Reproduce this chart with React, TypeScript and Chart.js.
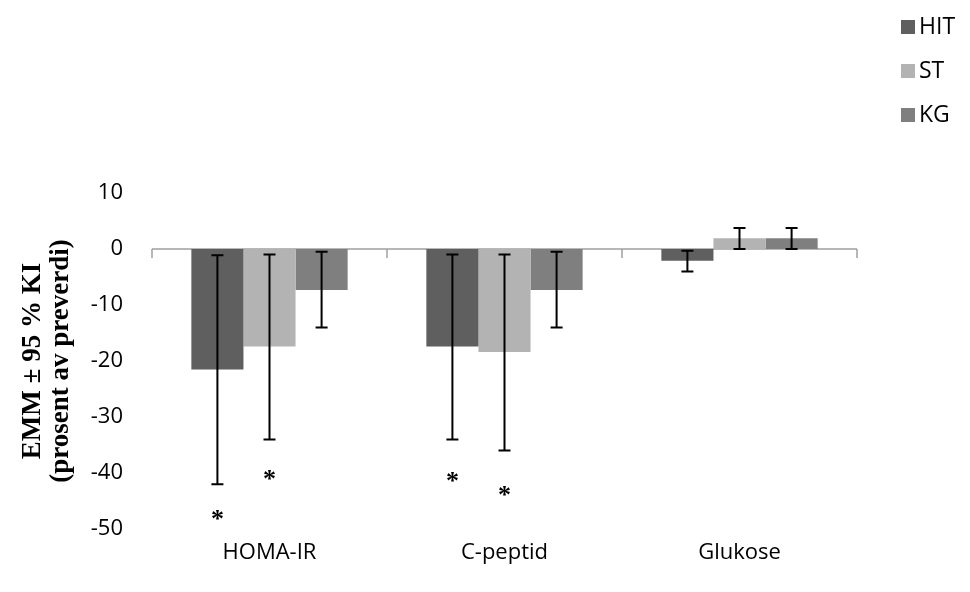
import React, { useEffect, useRef } from "react";
import { Chart, registerables } from "chart.js";

Chart.register(...registerables);

const categories = ["HOMA-IR", "C-peptid", "Glukose"];
const seriesNames = ["HIT", "ST", "KG"];
const hitValues = [-21.5, -17.4, -2.1];
const stValues = [-17.4, -18.4, 1.9];
const kgValues = [-7.3, -7.3, 1.9];
const hitLow = [-42, -34, -4];
const hitHigh = [-1.1, -1, -0.3];
const stLow = [-34, -36, 0];
const stHigh = [-1, -1, 3.75];
const kgLow = [-14, -14, 0];
const kgHigh = [-0.5, -0.5, 3.75];
const hitStars = [-47.5, -40.7, null];
const stStars = [-40.3, -43.3, null];
const kgStars = [null, null, null];
const yMin = -50;
const yMax = 10;
const yStep = 10;
const yTitle = ["EMM \u00b1 95 % KI", "(prosent av preverdi)"];

const colors = ["#5f5f5f", "#b3b3b3", "#7f7f7f"];
const lows = [hitLow, stLow, kgLow];
const highs = [hitHigh, stHigh, kgHigh];
const stars = [hitStars, stStars, kgStars];

const SANS = "'Open Sans', 'Liberation Sans', sans-serif";

const zeroLinePlugin = {
  id: "zeroLine",
  beforeDatasetsDraw(chart: any) {
    const { ctx, chartArea, scales } = chart;
    const y0 = scales.y.getPixelForValue(0);
    const n = categories.length;
    const w = (chartArea.right - chartArea.left) / n;
    ctx.save();
    ctx.strokeStyle = "#a0a0a0";
    ctx.lineWidth = 1.5;
    ctx.beginPath();
    ctx.moveTo(chartArea.left, y0);
    ctx.lineTo(chartArea.right, y0);
    for (let i = 0; i <= n; i++) {
      const x = chartArea.left + i * w;
      ctx.moveTo(x, y0);
      ctx.lineTo(x, y0 + 9);
    }
    ctx.stroke();
    ctx.restore();
  },
};

const errorBarPlugin = {
  id: "errorBars",
  afterDatasetsDraw(chart: any) {
    const { ctx, scales } = chart;
    ctx.save();
    ctx.strokeStyle = "#000";
    ctx.lineWidth = 2;
    chart.data.datasets.forEach((ds: any, i: number) => {
      const meta = chart.getDatasetMeta(i);
      meta.data.forEach((el: any, j: number) => {
        const x = el.x;
        const yl = scales.y.getPixelForValue(lows[i][j]);
        const yh = scales.y.getPixelForValue(highs[i][j]);
        ctx.beginPath();
        ctx.moveTo(x, yl);
        ctx.lineTo(x, yh);
        ctx.moveTo(x - 6, yl);
        ctx.lineTo(x + 6, yl);
        ctx.moveTo(x - 6, yh);
        ctx.lineTo(x + 6, yh);
        ctx.stroke();
      });
    });
    ctx.fillStyle = "#000";
    ctx.font = "bold 26px 'Liberation Serif', serif";
    ctx.textAlign = "center";
    ctx.textBaseline = "alphabetic";
    chart.data.datasets.forEach((ds: any, i: number) => {
      const meta = chart.getDatasetMeta(i);
      meta.data.forEach((el: any, j: number) => {
        const v = stars[i][j];
        if (v === null || v === undefined) return;
        const y = scales.y.getPixelForValue(v);
        ctx.fillText("*", el.x, y + 12);
      });
    });
    ctx.restore();
  },
};

const legendPlugin = {
  id: "customLegend",
  afterDraw(chart: any) {
    const { ctx } = chart;
    ctx.save();
    ctx.font = "23px " + SANS;
    ctx.textBaseline = "middle";
    ctx.textAlign = "left";
    chart.data.datasets.forEach((ds: any, i: number) => {
      const cy = 27 + i * 44;
      ctx.fillStyle = ds.backgroundColor;
      ctx.fillRect(901, cy - 7, 14, 14);
      ctx.fillStyle = "#000";
      ctx.fillText(ds.label, 919, cy);
    });
    ctx.restore();
  },
};

export default function App() {
  const ref = useRef<HTMLCanvasElement>(null);
  useEffect(() => {
    if (!ref.current) return;
    const values = [hitValues, stValues, kgValues];
    const chart = new Chart(ref.current, {
      type: "bar",
      data: {
        labels: categories,
        datasets: seriesNames.map((name, i) => ({
          label: name,
          data: values[i],
          backgroundColor: colors[i],
          borderWidth: 0,
          categoryPercentage: 0.665,
          barPercentage: 1,
        })),
      },
      options: {
        animation: false,
        responsive: false,
        devicePixelRatio: 1,
        layout: { padding: { top: 193, right: 113, bottom: 0, left: 0 } },
        plugins: {
          legend: { display: false },
          tooltip: { enabled: false },
        },
        scales: {
          x: {
            grid: { display: false, drawTicks: false },
            border: { display: false },
            ticks: { color: "#000", font: { family: SANS, size: 22 }, padding: 11 },
            afterFit(scale: any) {
              scale.height = 63;
            },
          },
          y: {
            min: yMin,
            max: yMax,
            grid: { display: false, drawTicks: false },
            border: { display: false },
            ticks: { stepSize: yStep, color: "#000", font: { family: SANS, size: 22 }, padding: 29 },
            title: {
              display: true,
              text: yTitle,
              color: "#000",
              font: { family: "'Liberation Serif', serif", size: 27, weight: "bold", lineHeight: 1.04 },
              padding: { top: 19, bottom: 0 },
            },
            afterFit(scale: any) {
              scale.width = 152;
            },
          },
        },
      },
      plugins: [zeroLinePlugin, errorBarPlugin, legendPlugin],
    });
    return () => chart.destroy();
  }, []);
  return (
    <div style={{ position: "fixed", left: 0, top: 0, width: 970, height: 592, background: "#fff" }}>
      <canvas ref={ref} width={970} height={592} style={{ display: "block" }} />
    </div>
  );
}
